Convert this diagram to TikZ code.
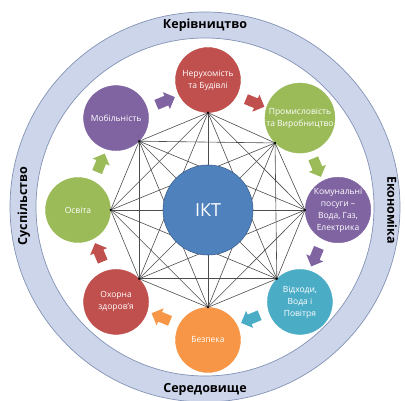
\documentclass[tikz,border=0pt]{standalone}
\usepackage{fontspec}
\setmainfont{Open Sans}
\usetikzlibrary{shapes.arrows}
\definecolor{ictred}{HTML}{C0504D}
\definecolor{ictgreen}{HTML}{9BBB59}
\definecolor{ictpurple}{HTML}{8064A2}
\definecolor{ictteal}{HTML}{4BACC6}
\definecolor{ictorange}{HTML}{F79646}
\definecolor{ictblue}{HTML}{4F81BD}
\definecolor{ringfill}{HTML}{CDD5EA}
\definecolor{ringedge}{HTML}{8293B5}
\tikzset{sector/.style={circle, fill=#1, draw=#1, minimum size=65pt, inner sep=0pt,
  text=white, align=center, font=\fontsize{8.5}{12}\selectfont},
flow/.style={single arrow, fill=#1, draw=none, minimum height=20pt,
  single arrow head extend=4pt, inner sep=5pt},
ringlabel/.style={font=\bfseries\fontsize{12.5}{14}\selectfont},
web/.style={draw=black!70, line width=0.6pt}}

\begin{document}
\begin{tikzpicture}[x=1pt,y=1pt]
\useasboundingbox (-208,-191) rectangle (197,210);

% ring round the picture
\fill[ringfill, even odd rule] (-3,3) circle (195) (-3,3) circle (169);
\draw[ringedge, line width=0.7pt] (-3,3) circle (195);
\draw[ringedge, line width=0.7pt] (-3,3) circle (169);

\node[ringlabel] (gov) at (-3,185) {Керівництво};
\node[ringlabel, rotate=-90] (eco) at (184,0) {Економіка};
\node[ringlabel] (env) at (-3,-179) {Середовище};
\node[ringlabel, rotate=90] (soc) at (-184,4) {Суспільство};

% the eight sectors
\foreach \ang/\col/\txt [count=\i from 0] in {
    90/ictred/{Нерухомість\\та Будівлі},
    45/ictgreen/{Промисловість\\та Виробництво},
    0/ictpurple/{Комунальні\\посуги –\\Вода, Газ,\\Електрика},
    315/ictteal/{Відходи,\\Вода і\\Повітря},
    270/ictorange/{Безпека},
    225/ictred/{Охорна\\здоров’я},
    180/ictgreen/{Освіта},
    135/ictpurple/{Мобільність}}
{
    \node[sector=\col] (n\i) at (\ang:130) {\txt};
    \pgfmathtruncatemacro\opp{mod(\ang+180,360)}
    \coordinate (h\i) at (n\i.\opp);
}

% every sector linked to every other
\foreach \i in {0,...,6}{
    \pgfmathtruncatemacro\k{\i+1}
    \foreach \j in {\k,...,7}
        \draw[web] (h\i) -- (h\j);
}

\foreach \i in {0,...,7}
    \fill (h\i) circle (1.2pt);

% arrows going round clockwise
\foreach \ang/\col [count=\i] in {112.5/ictpurple, 67.5/ictred, 22.5/ictgreen,
    -22.5/ictpurple, -67.5/ictteal, -112.5/ictorange, -157.5/ictred, 157.5/ictgreen}
    \node[flow=\col, rotate=\ang-90] (f\i) at (\ang:117) {};

\node[circle, fill=ictblue, draw=ictblue!75!black, line width=0.6pt, minimum size=90pt,
  text=white, font=\fontsize{18}{20}\selectfont] (ikt) at (0,0) {ІКТ};

\end{tikzpicture}
\end{document}
